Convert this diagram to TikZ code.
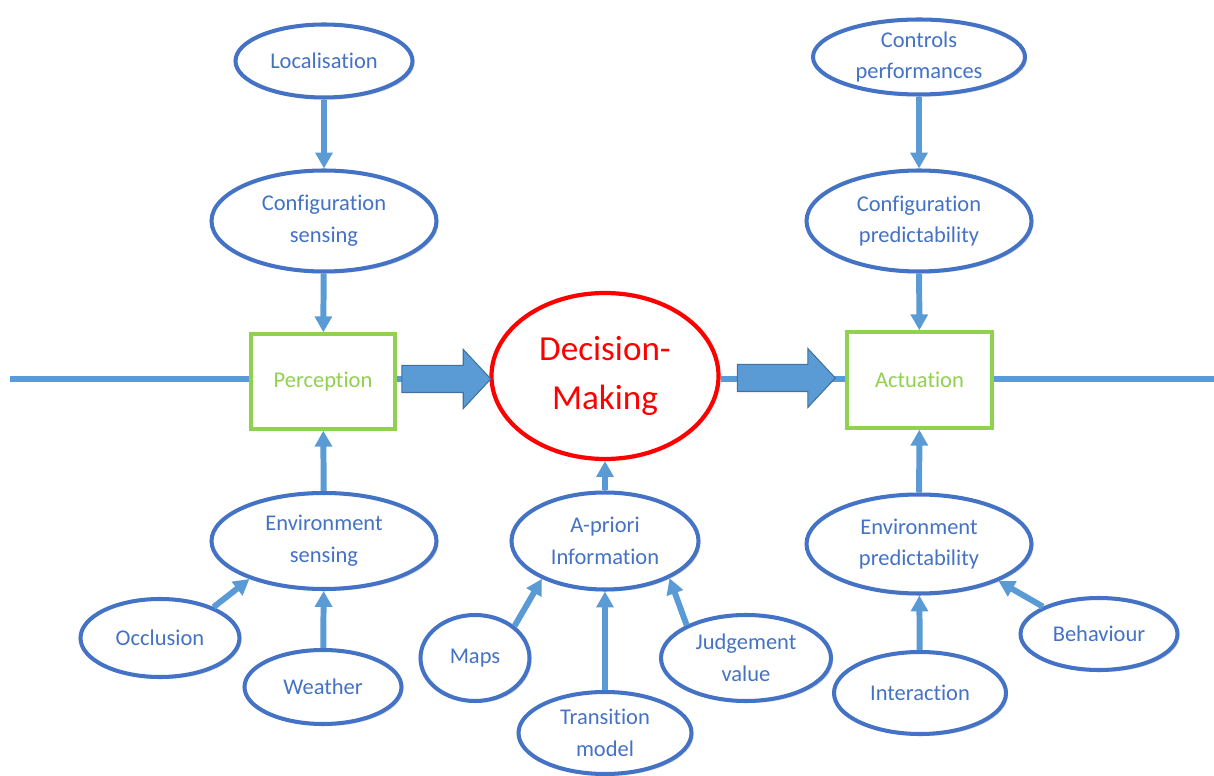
\documentclass[tikz,border=0pt]{standalone}
\usepackage{fontspec}
\setmainfont[Ligatures=NoCommon]{Carlito}
\usetikzlibrary{shapes.geometric,shapes.arrows,arrows.meta,shadows,calc}
\definecolor{eblue}{HTML}{4472C4}
\definecolor{ablue}{HTML}{5B9BD5}
\definecolor{bdark}{HTML}{41719C}
\definecolor{lgreen}{HTML}{92D050}
\newcommand{\pxu}{0.02cm}
\tikzset{
  ell/.style={ellipse, draw=eblue, line width=2.3pt, fill=white, text=eblue, align=center,
    inner sep=0pt, font=\fontsize{12.8}{18}\selectfont,
    drop shadow={opacity=0.25, shadow xshift=1.2pt, shadow yshift=-1.2pt}},
  gbox/.style={rectangle, draw=lgreen, line width=2pt, fill=white, text=lgreen,
    inner sep=0pt, font=\fontsize{12.8}{18}\selectfont},
  sarrow/.style={draw=ablue, line width=3.4pt, -{Triangle[length=9pt,width=9.5pt]}},
  hline/.style={draw=ablue, line width=3.3pt},
  bigarrow/.style={single arrow, draw=bdark, line width=0.6pt, fill=ablue, inner xsep=0pt,
    inner ysep=13*\pxu, single arrow head extend=16*\pxu, single arrow tip angle=94,
    single arrow head indent=0pt}
}
\begin{document}
\begin{tikzpicture}[x=0.02cm,y=-0.02cm]
\useasboundingbox (0,0) rectangle (1214,776);
% nodes
\node[ell, minimum width=177*\pxu, minimum height=73*\pxu] (loc) at (324,61) {Localisation};
\node[ell, minimum width=225*\pxu, minimum height=101*\pxu] (cs) at (324,221) {Configuration\\sensing};
\node[gbox, minimum width=144*\pxu, minimum height=95*\pxu] (perc) at (323,381.5) {Perception};
\node[ell, minimum width=225*\pxu, minimum height=96*\pxu] (envs) at (324,541) {Environment\\sensing};
\node[ell, minimum width=159*\pxu, minimum height=78*\pxu] (occ) at (160,638) {Occlusion};
\node[ell, minimum width=157*\pxu, minimum height=74*\pxu] (wea) at (323,687) {Weather};

\node[ellipse, draw=red, line width=2.4pt, fill=white, text=red, align=center, inner sep=0pt,
  font=\fontsize{20}{28}\selectfont, minimum width=227*\pxu, minimum height=166*\pxu] (dm) at (605,376) {Decision-\\Making};
\node[ell, minimum width=187*\pxu, minimum height=97*\pxu] (apr) at (605,541) {A-priori\\Information};
\node[ell, minimum width=109*\pxu, minimum height=86*\pxu] (maps) at (475,658) {Maps};
\node[ell, minimum width=173*\pxu, minimum height=82*\pxu] (trans) at (605,733) {Transition\\model};
\node[ell, minimum width=170*\pxu, minimum height=86*\pxu] (judg) at (746,658) {Judgement\\value};

\node[ell, minimum width=212*\pxu, minimum height=75*\pxu] (ctrl) at (919,57) {Controls\\performances};
\node[ell, minimum width=225*\pxu, minimum height=101*\pxu] (cp) at (919,221) {Configuration\\predictability};
\node[gbox, minimum width=145*\pxu, minimum height=96*\pxu] (act) at (919.5,380) {Actuation};
\node[ell, minimum width=225*\pxu, minimum height=99*\pxu] (ep) at (919,544) {Environment\\predictability};
\node[ell, minimum width=172*\pxu, minimum height=82*\pxu] (inter) at (920,693) {Interaction};
\node[ell, minimum width=157*\pxu, minimum height=72*\pxu] (beh) at (1099,634) {Behaviour};

\coordinate (L) at (10,379);
\coordinate (R) at (1214,379);
% horizontal line
\draw[hline] (L) -- (L -| perc.west);
\draw[hline] (L -| perc.east) -- (L -| dm.west);
\draw[hline] (L -| dm.east) -- (L -| act.west);
\draw[hline] (L -| act.east) -- (R);
% block arrows
\node[bigarrow, minimum height=89*\pxu] (ba1) at (440,379) {};
\node[bigarrow, minimum height=98*\pxu] (ba2) at (780,378) {};
% small arrows
\draw[sarrow] (loc) -- (cs);
\draw[sarrow] (cs) -- (perc);
\draw[sarrow] (envs) -- (perc);
\draw[sarrow] (occ.30) -- (envs.207);
\draw[sarrow] (wea) -- (envs);
\draw[sarrow] (apr) -- (dm);
\draw[sarrow] (maps.39) -- (apr.211);
\draw[sarrow] (trans) -- (apr);
\draw[sarrow] (judg.151) -- (apr.330);
\draw[sarrow] (ctrl) -- (cp);
\draw[sarrow] (cp) -- (act);
\draw[sarrow] (ep) -- (act);
\draw[sarrow] (inter) -- (ep);
\draw[sarrow] (beh.154) -- (ep.335);
\end{tikzpicture}
\end{document}
